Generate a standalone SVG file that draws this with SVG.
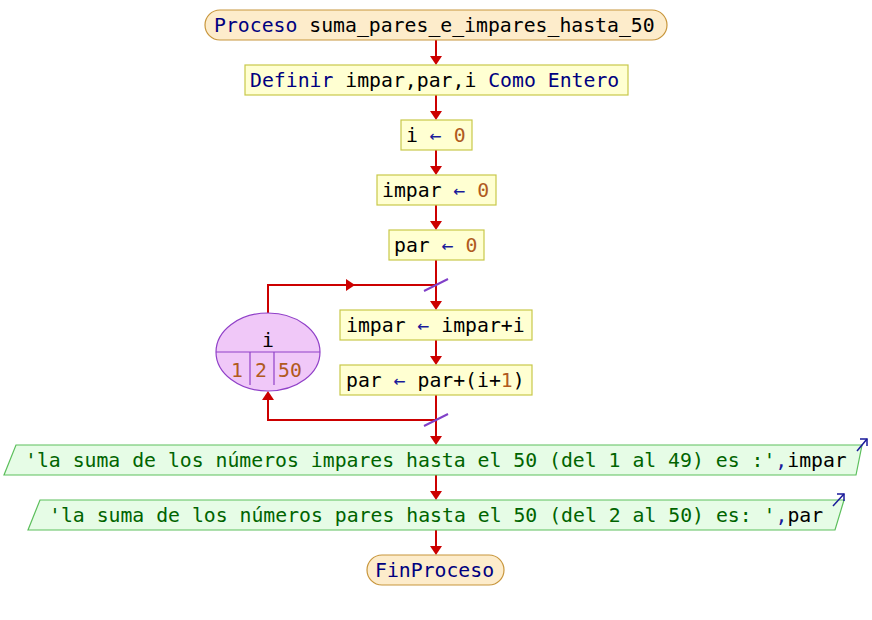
<svg xmlns="http://www.w3.org/2000/svg" width="872" height="620" viewBox="0 0 872 620">
<style>
text{font-family:"DejaVu Sans Mono","Liberation Mono",monospace;font-size:19.8px}
.term{fill:#fdeccb;stroke:#c8963c;stroke-width:1.2}
.proc{fill:#ffffd2;stroke:#c8c84a;stroke-width:1.2}
.out{fill:#e6fce6;stroke:#5cbf5c;stroke-width:1.2}
.loop{fill:#f0c8f8;stroke:#9040c8;stroke-width:1.2}
.k{fill:#000080}
.v{fill:#000000}
.n{fill:#b05a20}
.s{fill:#006400}
.e{fill:#1a1a9a}
.c{fill:none;stroke:#cc0000;stroke-width:2}
.h{fill:#cc0000}
.sl{stroke:#8040c8;stroke-width:2}
</style>
<rect width="872" height="620" fill="#ffffff"/>
<g id="connectors">
<line class="c" x1="436" y1="40" x2="436" y2="60"/><path class="h" d="M430,56 L442,56 L436,65 Z"/>
<line class="c" x1="436" y1="95" x2="436" y2="115"/><path class="h" d="M430,111 L442,111 L436,120 Z"/>
<line class="c" x1="436" y1="150" x2="436" y2="170"/><path class="h" d="M430,166 L442,166 L436,175 Z"/>
<line class="c" x1="436" y1="205" x2="436" y2="225"/><path class="h" d="M430,221 L442,221 L436,230 Z"/>
<line class="c" x1="436" y1="260" x2="436" y2="305"/><path class="h" d="M430,301 L442,301 L436,310 Z"/>
<polyline class="c" points="268,313 268,285 436,285"/><path class="h" d="M346,279 L346,291 L355,285 Z"/>
<line class="c" x1="436" y1="340" x2="436" y2="360"/><path class="h" d="M430,356 L442,356 L436,365 Z"/>
<line class="c" x1="436" y1="395" x2="436" y2="440"/><path class="h" d="M430,436 L442,436 L436,445 Z"/>
<polyline class="c" points="436,420 268,420 268,396"/><path class="h" d="M262,400 L274,400 L268,391 Z"/>
<line class="c" x1="436" y1="475" x2="436" y2="495"/><path class="h" d="M430,491 L442,491 L436,500 Z"/>
<line class="c" x1="436" y1="530" x2="436" y2="550"/><path class="h" d="M430,546 L442,546 L436,555 Z"/>
<line class="sl" x1="424" y1="291" x2="448" y2="279"/>
<line class="sl" x1="424" y1="426" x2="448" y2="414"/>
</g>
<g id="start">
<rect class="term" x="205" y="10" width="462" height="30" rx="15"/>
<text x="214" y="32"><tspan class="k">Proceso</tspan><tspan class="v"> suma_pares_e_impares_hasta_50</tspan></text>
</g>
<g id="definir">
<rect class="proc" x="245" y="65" width="383" height="30"/>
<text x="250" y="87"><tspan class="k">Definir</tspan><tspan class="v"> impar,par,i </tspan><tspan class="k">Como Entero</tspan></text>
</g>
<g id="asig_i">
<rect class="proc" x="401" y="120" width="71" height="30"/>
<text x="406" y="142"><tspan class="v">i </tspan><tspan class="e">←</tspan><tspan class="n"> 0</tspan></text>
</g>
<g id="asig_impar">
<rect class="proc" x="377" y="175" width="119" height="30"/>
<text x="382" y="197"><tspan class="v">impar </tspan><tspan class="e">←</tspan><tspan class="n"> 0</tspan></text>
</g>
<g id="asig_par">
<rect class="proc" x="389" y="230" width="95" height="30"/>
<text x="394" y="252"><tspan class="v">par </tspan><tspan class="e">←</tspan><tspan class="n"> 0</tspan></text>
</g>
<g id="para">
<ellipse class="loop" cx="268" cy="352" rx="52" ry="39"/>
<line x1="216" y1="352" x2="320" y2="352" stroke="#9040c8" stroke-width="1.2"/>
<line x1="250" y1="352" x2="250" y2="385" stroke="#9040c8" stroke-width="1.2"/>
<line x1="274" y1="352" x2="274" y2="385" stroke="#9040c8" stroke-width="1.2"/>
<text x="268" y="347" text-anchor="middle" class="v">i</text>
<text x="231" y="377" class="n">1</text>
<text x="255" y="377" class="n">2</text>
<text x="278" y="377" class="n">50</text>
</g>
<g id="suma_impar">
<rect class="proc" x="340" y="310" width="192" height="30"/>
<text x="346" y="332"><tspan class="v">impar </tspan><tspan class="e">←</tspan><tspan class="v"> impar+i</tspan></text>
</g>
<g id="suma_par">
<rect class="proc" x="340" y="365" width="192" height="30"/>
<text x="346" y="387"><tspan class="v">par </tspan><tspan class="e">←</tspan><tspan class="v"> par+(i+</tspan><tspan class="n">1</tspan><tspan class="v">)</tspan></text>
</g>
<g id="escribir1">
<polygon class="out" points="16,445 862,445 856,475 4,475"/>
<text x="25" y="467"><tspan class="s">'la suma de los números impares hasta el 50 (del 1 al 49) es :'</tspan><tspan class="e">,</tspan><tspan class="v">impar</tspan></text>
<line x1="857" y1="451" x2="867" y2="439" stroke="#1a1a9a" stroke-width="1.5"/>
<polyline points="860,439 867,439 867,446" fill="none" stroke="#1a1a9a" stroke-width="1.5"/>
</g>
<g id="escribir2">
<polygon class="out" points="40,500 844,500 835,530 28,530"/>
<text x="49" y="522"><tspan class="s">'la suma de los números pares hasta el 50 (del 2 al 50) es: '</tspan><tspan class="e">,</tspan><tspan class="v">par</tspan></text>
<line x1="833" y1="506" x2="844" y2="494" stroke="#1a1a9a" stroke-width="1.5"/>
<polyline points="837,494 844,494 844,501" fill="none" stroke="#1a1a9a" stroke-width="1.5"/>
</g>
<g id="fin">
<rect class="term" x="367" y="555" width="137" height="30" rx="15"/>
<text x="375" y="577" class="k">FinProceso</text>
</g>
</svg>
